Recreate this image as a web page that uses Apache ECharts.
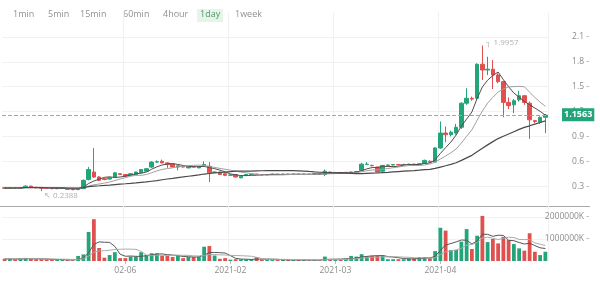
<!DOCTYPE html>
<html>
<head>
<meta charset="utf-8">
<script src="https://cdn.jsdelivr.net/npm/echarts@6/dist/echarts.min.js"></script>
<style>html,body{margin:0;padding:0;background:#fff;}#c{width:600px;height:287px;}</style>
</head>
<body>
<div id="c"></div>
<script>
const opens = [0.28,0.275,0.28,0.277,0.283,0.30,0.285,0.28,0.275,0.272,
0.27,0.272,0.268,0.262,0.258,0.27,0.38,0.47,0.41,0.39,
0.385,0.41,0.45,0.44,0.43,0.44,0.46,0.48,0.53,0.59,
0.60,0.58,0.57,0.53,0.54,0.52,0.535,0.52,0.55,0.54,
0.465,0.47,0.45,0.43,0.44,0.40,0.43,0.44,0.445,0.44,
0.435,0.44,0.445,0.44,0.445,0.44,0.445,0.44,0.445,0.44,
0.45,0.44,0.47,0.46,0.465,0.46,0.465,0.47,0.49,0.56,
0.55,0.53,0.48,0.55,0.555,0.56,0.555,0.56,0.565,0.56,
0.575,0.60,0.59,0.76,0.94,0.92,0.94,1.01,1.30,1.36,
1.36,1.77,1.70,1.71,1.64,1.56,1.31,1.28,1.34,1.39,
1.30,1.09,1.07,1.13];
const closes = [0.275,0.28,0.277,0.282,0.30,0.285,0.28,0.275,0.272,0.27,
0.272,0.274,0.262,0.258,0.27,0.37,0.50,0.41,0.37,0.38,
0.40,0.46,0.44,0.42,0.45,0.47,0.50,0.51,0.59,0.595,
0.58,0.56,0.53,0.545,0.53,0.535,0.53,0.535,0.56,0.46,
0.47,0.44,0.43,0.435,0.41,0.42,0.44,0.445,0.44,0.435,
0.44,0.445,0.44,0.445,0.44,0.445,0.44,0.445,0.44,0.45,
0.445,0.48,0.46,0.465,0.46,0.465,0.47,0.475,0.565,0.565,
0.545,0.47,0.55,0.555,0.56,0.555,0.56,0.565,0.56,0.57,
0.61,0.59,0.76,0.94,0.92,0.95,1.01,1.30,1.36,1.35,
1.77,1.70,1.71,1.64,1.56,1.31,1.27,1.33,1.39,1.31,
1.10,1.08,1.13,1.1563];
const lows = [0.27,0.27,0.272,0.272,0.278,0.28,0.275,0.2388,0.265,0.262,
0.262,0.265,0.255,0.25,0.255,0.265,0.37,0.40,0.36,0.37,
0.38,0.40,0.435,0.415,0.425,0.435,0.455,0.475,0.52,0.58,
0.575,0.52,0.525,0.49,0.525,0.515,0.525,0.515,0.54,0.35,
0.46,0.435,0.42,0.425,0.405,0.395,0.425,0.435,0.435,0.43,
0.43,0.435,0.435,0.435,0.435,0.435,0.435,0.435,0.435,0.435,
0.44,0.42,0.455,0.455,0.455,0.455,0.46,0.46,0.485,0.555,
0.54,0.465,0.475,0.545,0.55,0.55,0.55,0.555,0.555,0.555,
0.57,0.58,0.58,0.75,0.83,0.90,0.92,0.99,1.28,1.33,
1.34,1.58,1.64,1.47,1.54,1.13,1.23,1.18,1.32,1.28,
0.87,1.06,1.05,0.94];
const highs = [0.29,0.285,0.285,0.288,0.31,0.305,0.29,0.285,0.28,0.277,
0.276,0.278,0.27,0.265,0.275,0.38,0.53,0.76,0.42,0.40,
0.41,0.47,0.455,0.445,0.455,0.475,0.505,0.52,0.60,0.61,
0.62,0.585,0.575,0.55,0.545,0.54,0.54,0.54,0.60,0.59,
0.475,0.475,0.455,0.44,0.445,0.425,0.445,0.45,0.45,0.445,
0.445,0.45,0.45,0.45,0.45,0.45,0.45,0.45,0.45,0.455,
0.455,0.50,0.475,0.47,0.47,0.47,0.475,0.48,0.58,0.59,
0.56,0.535,0.555,0.56,0.565,0.565,0.57,0.57,0.57,0.575,
0.62,0.61,0.77,1.08,1.02,0.97,1.05,1.31,1.48,1.38,
1.78,1.9957,1.86,1.82,1.66,1.57,1.37,1.35,1.45,1.40,
1.32,1.10,1.14,1.17];
const volumes = [100000,90000,80000,110000,140000,90000,80000,80000,70000,60000,
50000,60000,40000,30000,230000,300000,1320000,1900000,590000,150000,
270000,400000,130000,130000,200000,200000,400000,270000,350000,350000,
240000,230000,180000,240000,130000,180000,180000,200000,650000,680000,
250000,100000,130000,60000,80000,70000,70000,70000,170000,60000,
60000,50000,50000,60000,50000,40000,40000,40000,40000,50000,
40000,200000,70000,60000,70000,100000,230000,200000,310000,200000,
230000,250000,250000,80000,80000,80000,80000,120000,120000,170000,
170000,130000,450000,1510000,1380000,500000,500000,880000,1450000,545000,
1150000,2050000,860000,1000000,800000,1100000,950000,770000,575000,470000,
1260000,420000,270000,420000];
const tickIndex = [23, 43, 63, 83];
const tickLabels = ['02-06', '2021-02', '2021-03', '2021-04'];
const periods = ['1min', '5min', '15min', '60min', '4hour', '1day', '1week'];
const activePeriod = '1day';
const lastPrice = 1.1563;

const UP = '#22a57b', DOWN = '#e0504f';
const categories = opens.map((_, i) => String(i));
const candles = opens.map((o, i) => [o, closes[i], lows[i], highs[i]]);
function ma(arr, n) {
  return arr.map((_, i) => {
    const s = Math.max(0, i - n + 1);
    let sum = 0;
    for (let k = s; k <= i; k++) sum += arr[k];
    return +(sum / (i - s + 1)).toFixed(5);
  });
}
const isTick = (idx) => tickIndex.indexOf(idx) >= 0;
let maxI = 0, minI = 0;
highs.forEach((h, i) => { if (h > highs[maxI]) maxI = i; });
lows.forEach((l, i) => { if (l < lows[minI]) minI = i; });

const btnX = [13, 48, 80, 123, 163, 200, 235];
const graphics = [];
periods.forEach((p, i) => {
  if (p === activePeriod) {
    graphics.push({type: 'rect', left: btnX[i] - 3, top: 9, shape: {width: 26, height: 13}, style: {fill: '#e6f4ea'}});
  }
  graphics.push({type: 'text', left: btnX[i], top: 10, style: {text: p, fill: p === activePeriod ? '#4f9a62' : '#919191', font: '9px "Open Sans", sans-serif'}});
});
graphics.push({type: 'line', shape: {x1: 0, y1: 206.5, x2: 590, y2: 206.5}, style: {stroke: '#aaaaaa', lineWidth: 1}});

const chart = echarts.init(document.getElementById('c'));
const faint = '#f1f1f1', none = 'rgba(0,0,0,0)';
const axisFont = 8.5;
chart.setOption({
  animation: false,
  backgroundColor: '#fff',
  textStyle: {fontFamily: '"Open Sans", sans-serif'},
  graphic: graphics,
  grid: [
    {left: 2, right: 52, top: 12, height: 199},
    {left: 2, right: 52, top: 206, height: 55}
  ],
  xAxis: [
    {type: 'category', gridIndex: 0, data: categories, boundaryGap: true,
     axisLine: {show: false}, axisTick: {show: false}, axisLabel: {show: false},
     splitLine: {show: true, interval: (i) => isTick(i), lineStyle: {color: faint}}},
    {type: 'category', gridIndex: 1, data: categories, boundaryGap: true,
     axisLine: {show: false},
     axisTick: {show: true, alignWithLabel: true, length: 3, interval: (i) => isTick(i), lineStyle: {color: '#bbb'}},
     axisLabel: {show: true, interval: (i) => isTick(i), formatter: (v, i) => tickLabels[tickIndex.indexOf(i)] || '', color: '#8c8c8c', fontSize: axisFont, margin: 5},
     splitLine: {show: true, interval: (i) => isTick(i), lineStyle: {color: faint}}}
  ],
  yAxis: [
    {type: 'value', gridIndex: 0, position: 'right', min: 0, max: 2.4, interval: 0.3, scale: false,
     axisLine: {show: false}, axisTick: {show: false},
     axisLabel: {margin: 41, align: 'right', color: '#8c8c8c', fontSize: axisFont,
       formatter: (v) => (v <= 0.001 || v >= 2.399) ? '' : v.toFixed(1) + ' -'},
     splitLine: {show: true, lineStyle: {color: [none, faint, faint, faint, faint, faint, faint, faint, none]}}},
    {type: 'value', gridIndex: 1, position: 'right', min: 0, max: 2500000, interval: 1000000,
     axisLine: {show: false}, axisTick: {show: false},
     axisLabel: {margin: 41, align: 'right', color: '#8c8c8c', fontSize: axisFont,
       formatter: (v) => (v === 1000000 || v === 2000000) ? v + 'K -' : ''},
     splitLine: {show: true, lineStyle: {color: [none, faint, faint, none]}}}
  ],
  series: [
    {type: 'candlestick', xAxisIndex: 0, yAxisIndex: 0, data: candles, barWidth: '72%',
     itemStyle: {color: UP, color0: DOWN, borderColor: UP, borderColor0: DOWN, borderWidth: 1},
     markLine: {symbol: 'none', silent: true,
       lineStyle: {color: '#86b3a6', type: 'dashed', width: 1},
       label: {show: true, position: 'end', distance: 14, formatter: () => lastPrice.toFixed(4),
         color: '#fff', backgroundColor: UP, padding: [2, 2, 2, 2], fontSize: 9, fontWeight: 'bold'},
       data: [{yAxis: lastPrice}]},
     markPoint: {silent: true, symbol: 'circle', symbolSize: 1, itemStyle: {color: none},
       data: [
         {coord: [maxI, highs[maxI]], value: highs[maxI],
          label: {show: true, formatter: '\u2510 ' + highs[maxI].toFixed(4), position: 'right', offset: [-2, -3], color: '#b0b0b0', fontSize: 8}},
         {coord: [minI, lows[minI]], value: lows[minI],
          label: {show: true, formatter: '\u2196 ' + lows[minI].toFixed(4), position: 'right', offset: [-3, 5], color: '#b0b0b0', fontSize: 8}}
       ]}},
    {type: 'line', xAxisIndex: 0, yAxisIndex: 0, data: ma(closes, 5), symbol: 'none', lineStyle: {color: '#5a4a4a', width: 1}},
    {type: 'line', xAxisIndex: 0, yAxisIndex: 0, data: ma(closes, 10), symbol: 'none', lineStyle: {color: '#a0a0a0', width: 1}},
    {type: 'line', xAxisIndex: 0, yAxisIndex: 0, data: ma(closes, 30), symbol: 'none', lineStyle: {color: '#4a4a4a', width: 1.2}},
    {type: 'bar', xAxisIndex: 1, yAxisIndex: 1, barWidth: '72%',
     data: volumes.map((v, i) => ({value: v, itemStyle: {color: closes[i] >= opens[i] ? UP : DOWN}}))},
    {type: 'line', xAxisIndex: 1, yAxisIndex: 1, data: ma(volumes, 5), symbol: 'none', lineStyle: {color: '#555', width: 1}},
    {type: 'line', xAxisIndex: 1, yAxisIndex: 1, data: ma(volumes, 10), symbol: 'none', lineStyle: {color: '#aaa', width: 1}}
  ]
});
</script>
</body>
</html>
